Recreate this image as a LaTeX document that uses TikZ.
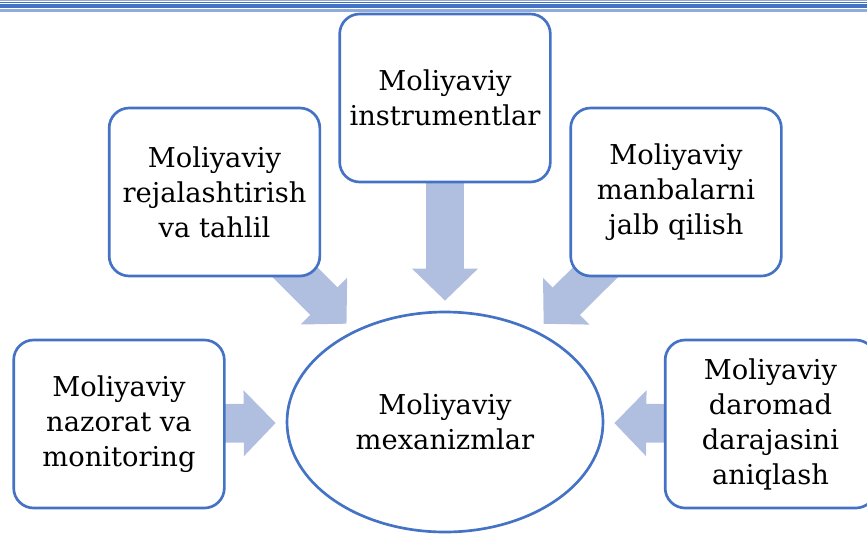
\documentclass[tikz,border=0pt]{standalone}
\usepackage{fontspec}
\setmainfont{DejaVu Serif}
\usepackage{tikz}
\usetikzlibrary{arrows.meta,shapes.geometric,backgrounds}
\definecolor{boxblue}{RGB}{68,114,196}
\definecolor{arrowblue}{RGB}{176,190,224}
\definecolor{lineblue}{RGB}{143,170,220}

\begin{document}
\begin{tikzpicture}[x=0.75pt,y=-0.75pt,
	rbox/.style={shape=rectangle,draw=boxblue,line width=2pt,fill=white,rounded corners=15pt,
		minimum width=158pt,minimum height=126pt,align=center,font=\fontsize{20.5}{26.25}\selectfont},
	fat/.style={line width=29pt,draw=arrowblue,-{Triangle[width=48pt,length=24pt]},shorten >=7.5pt}]
	\useasboundingbox (0,0) rectangle (867,533);

	% rules at the top of the page
	\draw[lineblue,line width=1pt] (0,0.7) -- (867,0.7);
	\draw[boxblue,line width=1pt] (0,2.4) -- (867,2.4);
	\draw[boxblue,line width=3pt] (0,6.4) -- (867,6.4);
	\draw[lineblue,line width=1pt] (0,9.9) -- (867,9.9);
	\draw[lineblue,line width=1pt] (0,11.7) -- (867,11.7);

	\node (mech) [shape=ellipse,draw=boxblue,line width=2pt,fill=white,
		minimum width=237pt,minimum height=165pt,align=center,
		font=\fontsize{20.5}{26.25}\selectfont] at (445,422) {Moliyaviy\\mexanizmlar};
	\node (instr) [rbox] at (445,98) {Moliyaviy\\instrumentlar};
	\node (plan) [rbox] at (214.5,192) {Moliyaviy\\rejalashtirish\\va tahlil};
	\node (source) [rbox] at (676,192) {Moliyaviy\\manbalarni\\jalb qilish};
	\node (control) [rbox] at (119,424) {Moliyaviy\\nazorat va\\monitoring};
	\node (income) [rbox] at (770.5,424) {Moliyaviy\\daromad\\darajasini\\aniqlash};

	\begin{scope}[on background layer]
		\draw[fat] (instr.center) -- (mech);
		\draw[fat] (plan.center) -- (mech);
		\draw[fat] (source.center) -- (mech);
		\draw[fat] (control.center) -- (mech);
		\draw[fat] (income.center) -- (mech);
	\end{scope}
\end{tikzpicture}
\end{document}
